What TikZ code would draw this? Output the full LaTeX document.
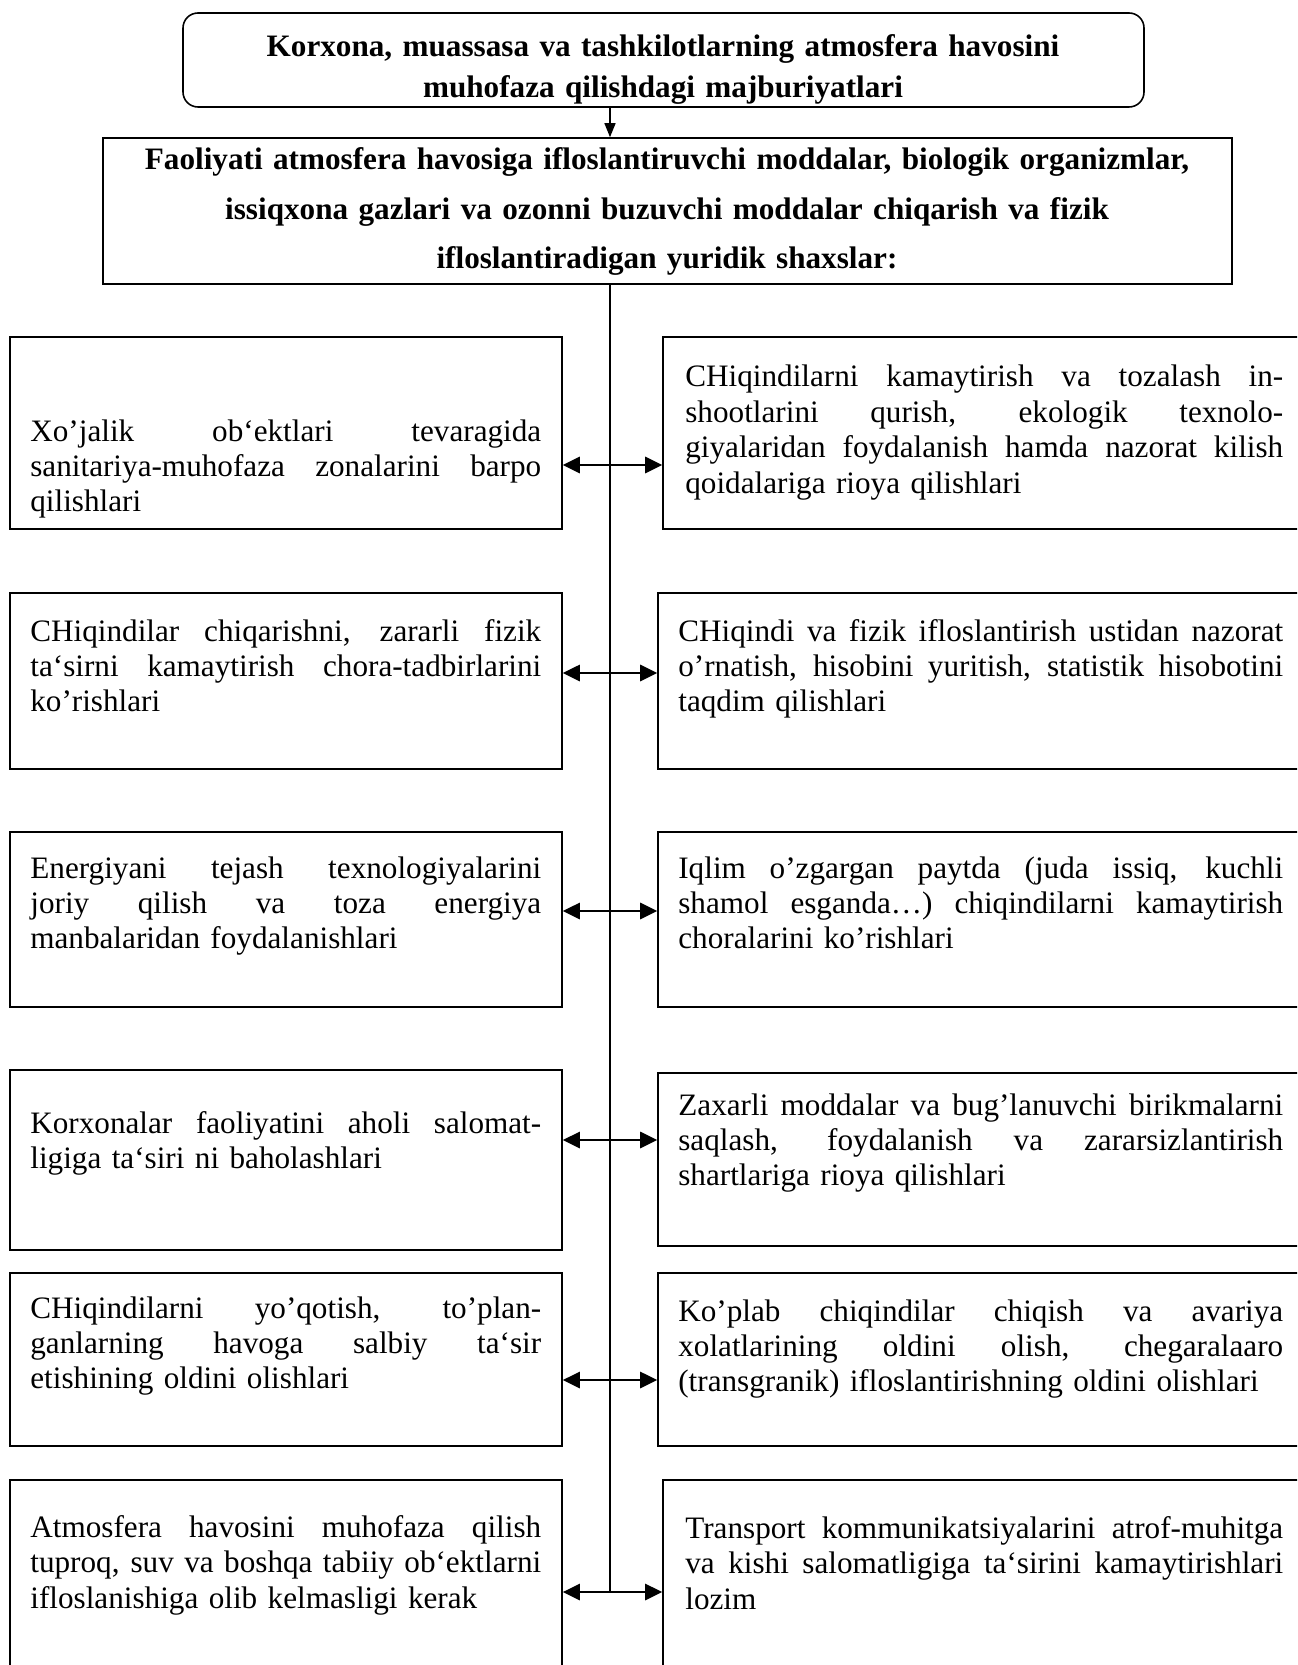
\documentclass[tikz,border=0pt]{standalone}
\usepackage{fontspec}
\setmainfont{Liberation Serif}
\usetikzlibrary{arrows.meta, fit, positioning}
\tikzset{box/.style={draw, line width=0.9pt, inner sep=0pt}, topbox/.style={box, rounded corners=0.3cm}}
\tikzset{
    txt/.style={inner sep=0pt, anchor=base west, font=\fontsize{17.75}{20.2}\selectfont},
    headtxt/.style={inner sep=0pt, anchor=base, align=center, font=\fontsize{17.75}{#1}\selectfont\bfseries},
    link/.style={line width=1.6pt, {Triangle[length=0.34cm,width=0.32cm]}-{Triangle[length=0.34cm,width=0.32cm]}},
    feed/.style={line width=0.8pt, -{Triangle[length=0.28cm,width=0.22cm]}},
}
\newcommand{\jl}[1]{\noindent\hbox to\hsize{\spaceskip=0.25em plus 1fil\relax #1}\par}

\begin{document}
\begin{tikzpicture}[x=0.02cm, y=-0.02cm]
                 \useasboundingbox (0,0) rectangle (1297,1665);
                 \clip (0,0) rectangle (1297,1665);
                 \node[topbox, fit={(183,13) (1144,107)}] (duty) {};
                 \node[box, fit={(103,138) (1232,284)}] (legal) {};
                 \begin{scope}
                 \clip (duty.south west) rectangle (duty.north east);
                 \node[headtxt=23pt, text width=19cm] (dutytxt) at (663,57) {Korxona, muassasa va tashkilotlarning atmosfera havosini\\muhofaza qilishdagi majburiyatlari};
                 \end{scope}
                 \node[headtxt=28pt, text width=22.5cm] (legaltxt) at (667,170) {Faoliyati atmosfera havosiga ifloslantiruvchi moddalar, biologik organizmlar,\\issiqxona gazlari va ozonni buzuvchi moddalar chiqarish va fizik\\ifloslantiradigan yuridik shaxslar:};
                 \node[box, fit={(10,337) (562,529)}] (l1) {};
                 \node[box, fit={(663,337) (1340,529)}] (r1) {};
                 \node[box, fit={(10,593) (562,769)}] (l2) {};
                 \node[box, fit={(658,593) (1340,769)}] (r2) {};
                 \node[box, fit={(10,832) (562,1007)}] (l3) {};
                 \node[box, fit={(658,832) (1340,1007)}] (r3) {};
                 \node[box, fit={(10,1070) (562,1250)}] (l4) {};
                 \node[box, fit={(658,1073) (1340,1246)}] (r4) {};
                 \node[box, fit={(10,1273) (562,1446)}] (l5) {};
                 \node[box, fit={(658,1273) (1340,1446)}] (r5) {};
                 \node[box, fit={(10,1480) (562,1720)}] (l6) {};
                 \node[box, fit={(663,1480) (1340,1720)}] (r6) {};
                 \node[txt, text width=10.22cm] (l1t) at (30,441) {\jl{Xo’jalik ob‘ektlari tevaragida}\jl{sanitariya-muhofaza zonalarini barpo}qilishlari};
                 \node[txt, text width=11.96cm] (r1t) at (685,387) {\jl{CHiqindilarni kamaytirish va tozalash in-}\jl{shootlarini qurish, ekologik texnolo-}\jl{giyalaridan foydalanish hamda nazorat kilish}qoidalariga rioya qilishlari};
                 \node[txt, text width=10.22cm] (l2t) at (30,641) {\jl{CHiqindilar chiqarishni, zararli fizik}\jl{ta‘sirni kamaytirish chora-tadbirlarini}ko’rishlari};
                 \node[txt, text width=12.1cm] (r2t) at (678,641) {\jl{CHiqindi va fizik ifloslantirish ustidan nazorat}\jl{o’rnatish, hisobini yuritish, statistik hisobotini}taqdim qilishlari};
                 \node[txt, text width=10.22cm] (l3t) at (30,878) {\jl{Energiyani tejash texnologiyalarini}\jl{joriy qilish va toza energiya}manbalaridan foydalanishlari};
                 \node[txt, text width=12.1cm] (r3t) at (678,878) {\jl{Iqlim o’zgargan paytda (juda issiq, kuchli}\jl{shamol esganda…) chiqindilarni kamaytirish}choralarini ko’rishlari};
                 \node[txt, text width=10.22cm] (l4t) at (30,1133) {\jl{Korxonalar faoliyatini aholi salomat-}ligiga ta‘siri ni baholashlari};
                 \node[txt, text width=12.1cm] (r4t) at (678,1115) {\jl{Zaxarli moddalar va bug’lanuvchi birikmalarni}\jl{saqlash, foydalanish va zararsizlantirish}shartlariga rioya qilishlari};
                 \node[txt, text width=10.22cm] (l5t) at (30,1318) {\jl{CHiqindilarni yo’qotish, to’plan-}\jl{ganlarning havoga salbiy ta‘sir}etishining oldini olishlari};
                 \node[txt, text width=12.1cm] (r5t) at (678,1321) {\jl{Ko’plab chiqindilar chiqish va avariya}\jl{xolatlarining oldini olish, chegaralaaro}(transgranik) ifloslantirishning oldini olishlari};
                 \node[txt, text width=10.22cm] (l6t) at (30,1537) {\jl{Atmosfera havosini muhofaza qilish}\jl{tuproq, suv va boshqa tabiiy ob‘ektlarni}ifloslanishiga olib kelmasligi kerak};
                 \node[txt, text width=11.96cm] (r6t) at (685,1538) {\jl{Transport kommunikatsiyalarini atrof-muhitga}\jl{va kishi salomatligiga ta‘sirini kamaytirishlari}lozim};
                 \coordinate (a1) at (610,465);
                 \coordinate (a2) at (610,673);
                 \coordinate (a3) at (610,911);
                 \coordinate (a4) at (610,1140);
                 \coordinate (a5) at (610,1380);
                 \coordinate (a6) at (610,1592);
                 \draw[feed] (a1 |- duty.south) -- (a1 |- legal.north);
                 \draw[line width=1pt] (a1 |- legal.south) -- (a6);
                 \draw[link] (l1.east |- a1) -- (r1.west |- a1);
                 \draw[link] (l2.east |- a2) -- (r2.west |- a2);
                 \draw[link] (l3.east |- a3) -- (r3.west |- a3);
                 \draw[link] (l4.east |- a4) -- (r4.west |- a4);
                 \draw[link] (l5.east |- a5) -- (r5.west |- a5);
                 \draw[link] (l6.east |- a6) -- (r6.west |- a6);
             \end{tikzpicture}
\end{document}
